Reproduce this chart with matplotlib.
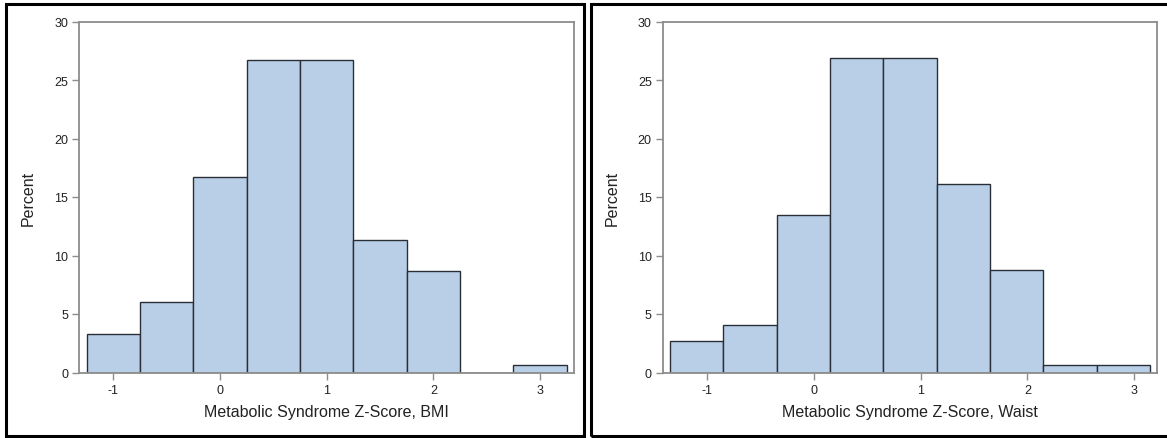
import matplotlib
matplotlib.use("Agg")
import matplotlib.pyplot as plt
from matplotlib.patches import Rectangle
import numpy as np

plt.rcParams['font.family'] = ['Liberation Sans', 'DejaVu Sans']

# Data
bmi_edges = [-1.25, -0.75, -0.25, 0.25, 0.75, 1.25, 1.75, 2.25, 2.75, 3.25]
bmi_percent = [3.33, 6.00, 16.67, 26.67, 26.67, 11.33, 8.67, 0.0, 0.67]
waist_edges = [-1.35, -0.85, -0.35, 0.15, 0.65, 1.15, 1.65, 2.15, 2.65, 3.15]
waist_percent = [2.68, 4.03, 13.42, 26.85, 26.85, 16.11, 8.72, 0.67, 0.67]
x_ticks = [-1, 0, 1, 2, 3]
y_ticks = [0, 5, 10, 15, 20, 25, 30]
bmi_label = "Metabolic Syndrome Z-Score, BMI"
waist_label = "Metabolic Syndrome Z-Score, Waist"
y_label = "Percent"

W, H = 1167, 439
fig = plt.figure(figsize=(W / 100, H / 100), dpi=100)

fill = '#b9cfe7'
edge = '#2a2e36'
spine = '#8c8c8c'
textc = '#222222'

def px_rect(x0, x1, y_top, y_bot):
    return [x0 / W, 1 - y_bot / H, (x1 - x0) / W, (y_bot - y_top) / H]

panels = [
    (px_rect(79.5, 573.6, 22.5, 373.5), bmi_edges, bmi_percent, bmi_label, (-1.317, 3.315)),
    (px_rect(662.9, 1156.8, 22.5, 373.5), waist_edges, waist_percent, waist_label, (-1.418, 3.213)),
]

for rect, edges, vals, xlabel, xlim in panels:
    ax = fig.add_axes(rect)
    edges = np.array(edges)
    ax.bar(edges[:-1], vals, width=np.diff(edges), align='edge',
           color=fill, edgecolor=edge, linewidth=1.0, zorder=2)
    ax.set_xlim(*xlim)
    ax.set_ylim(0, 30)
    ax.set_xticks(x_ticks)
    ax.set_yticks(y_ticks)
    ax.set_xticklabels([str(t) for t in x_ticks])
    ax.set_yticklabels([str(t) for t in y_ticks])
    for s in ax.spines.values():
        s.set_color(spine)
        s.set_linewidth(1.3)
    ax.tick_params(axis='both', colors=spine, labelcolor=textc, labelsize=9,
                   length=5, width=1.0, pad=3)
    ax.set_xlabel(xlabel, fontsize=11.5, color=textc, labelpad=6)
    ax.set_ylabel(y_label, fontsize=11.5, color=textc)
    ax.yaxis.set_label_coords(-43.5 / (rect[2] * W), 0.5)

# Panel frames (figure pixel coords)
def frame(x0, x1, y0, y1):
    r = Rectangle((x0 / W, 1 - y1 / H), (x1 - x0) / W, (y1 - y0) / H,
                  transform=fig.transFigure, fill=False, edgecolor='black',
                  linewidth=2.2, zorder=10)
    fig.patches.append(r)

frame(6, 583.5, 5, 437)
frame(591, 1175, 5, 437)

fig.savefig("out.png", dpi=100)
